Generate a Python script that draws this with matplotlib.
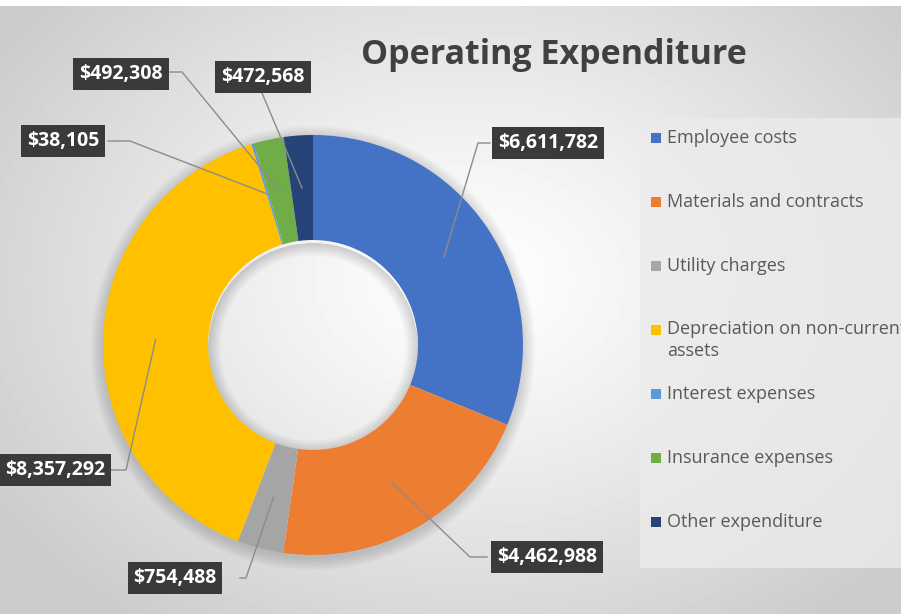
import numpy as np
import matplotlib.pyplot as plt
from matplotlib.patches import Annulus

plt.rcParams['font.family'] = ['Open Sans', 'DejaVu Sans']

# data
categories = ['Employee costs', 'Materials and contracts', 'Utility charges',
              'Depreciation on non-current\nassets', 'Interest expenses',
              'Insurance expenses', 'Other expenditure']
values = [6611782, 4462988, 754488, 8357292, 38105, 492308, 472568]
colors = ['#4472C4', '#ED7D31', '#A5A5A5', '#FFC000', '#5B9BD5', '#70AD47', '#264478']

W, H = 901, 614
fig = plt.figure(figsize=(W / 100, H / 100), dpi=100)

# background: radial grey gradient
bg = fig.add_axes([0, 0, 1, 1])
yy, xx = np.mgrid[0:H, 0:W]
d = np.sqrt(((xx - 470) / 560.0) ** 2 + ((yy - 280) / 420.0) ** 2)
shade = 1.0 - 0.2 * np.clip(d, 0, 1) ** 1.2
shade[:6, :] = 1.0
bg.imshow(shade, cmap='gray', vmin=0, vmax=1, extent=(0, W, H, 0), aspect='auto')
bg.set_xlim(0, W)
bg.set_ylim(H, 0)
bg.axis('off')

# legend panel
bg.add_patch(plt.Rectangle((640, 118), 270, 450, facecolor='#ebebeb', edgecolor='none', alpha=0.8))

# soft shadow round the donut (outer edge and inside the hole)
for k in range(8):
    bg.add_patch(Annulus((313, 348), 211 + k * 1.6, 6 + k * 1.6, facecolor='#000000',
                         edgecolor='none', alpha=0.02))
    bg.add_patch(Annulus((313, 348), 105, 2 + k * 1.5, facecolor='#000000',
                         edgecolor='none', alpha=0.02))

# donut: centre (313, 345) px, radius 210 px
cx, cy, R = 313, 345, 210
ax = fig.add_axes([(cx - R) / W, (H - cy - R) / H, 2 * R / W, 2 * R / H])
wedges, _ = ax.pie(values, colors=colors, startangle=90, counterclock=False,
                   wedgeprops=dict(width=0.5, edgecolor='none'))
ax.set_xlim(-1, 1)
ax.set_ylim(-1, 1)
ax.set_aspect('equal')

# overlay for leader lines and labels
top = fig.add_axes([0, 0, 1, 1])
top.set_xlim(0, W)
top.set_ylim(H, 0)
top.axis('off')
top.patch.set_alpha(0)

top.text(554, 55, 'Operating Expenditure', fontsize=24.5, fontweight='bold',
         color='#404040', ha='center', va='center')

# data labels (text centre, box edge, elbow)
label_pos = [(548, 143, 490, 143, 478), (547, 557, 487, 557, 470),
             (175, 578, 240, 578, 246), (55, 470, 110, 470, 126),
             (63, 141, 108, 141, 130), (121, 74, 170, 72, 182),
             (263, 77, 262, 93, 262)]

for w, v, (tx, ty, ex, ey, bx) in zip(wedges, values, label_pos):
    ang = np.deg2rad((w.theta1 + w.theta2) / 2)
    px, py = ax.transData.transform((0.75 * np.cos(ang), 0.75 * np.sin(ang)))
    py = H - py
    top.plot([px, bx, ex], [py, ey, ey], color='#8c8c8c', lw=1)
    top.text(tx, ty, f'${v:,.0f}', fontsize=14, fontweight='bold', color='white',
             ha='center', va='center',
             bbox=dict(boxstyle='square,pad=0.3', facecolor='#3a3a3a', edgecolor='none'))

# legend
for i, (name, c) in enumerate(zip(categories, colors)):
    y = 138 + i * 64
    top.add_patch(plt.Rectangle((651, y - 5), 10, 10, facecolor=c, edgecolor='none'))
    top.text(667, y - 10 if '\n' in name else y, name, fontsize=13, color='#595959',
             ha='left', va='top' if '\n' in name else 'center', linespacing=1.3)

fig.savefig('out.png', dpi=100)
